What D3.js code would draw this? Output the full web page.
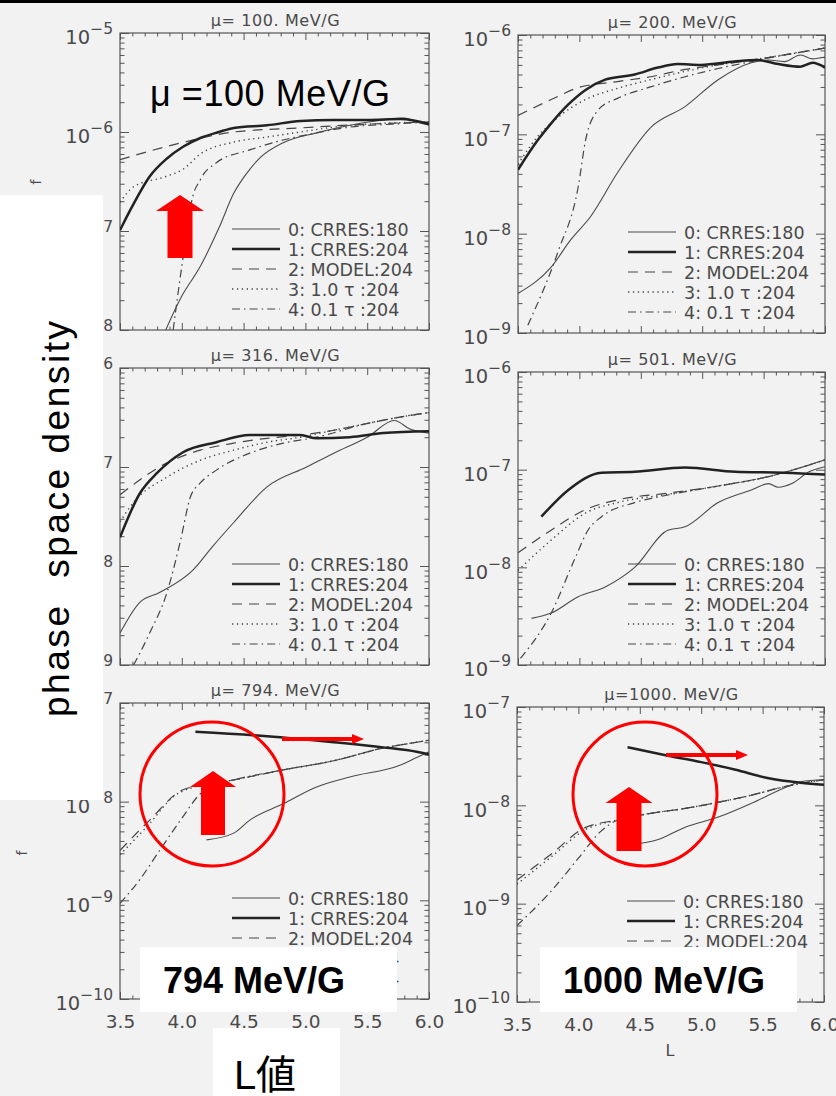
<!DOCTYPE html>
<html><head><meta charset="utf-8">
<script src="https://cdn.jsdelivr.net/npm/d3@7"></script>
<style>body{margin:0;background:#f1f1f1;} svg{display:block;}</style>
</head><body><svg id="c" width="836" height="1096"></svg>
<script>
// ---------- data ----------
const muTitles = ["\u03bc= 100. MeV/G","\u03bc= 200. MeV/G","\u03bc= 316. MeV/G","\u03bc= 501. MeV/G","\u03bc= 794. MeV/G","\u03bc=1000. MeV/G"];
const seriesNames = ["0: CRRES:180","1: CRRES:204","2: MODEL:204","3: 1.0 \u03c4 :204","4: 0.1 \u03c4 :204"];
const xTicks = [3.5,4.0,4.5,5.0,5.5,6.0];
const xTickLabels = ["3.5","4.0","4.5","5.0","5.5","6.0"];
const yTopDecade = [-5,-6,-6,-6,-7,-7];
const yBottomDecade = [-8,-9,-9,-9,-10,-10];

// mu = 100
const mu100_L0 = [3.87,4.0,4.15,4.3,4.42,4.55,4.64,4.82,5.09,5.36,5.63,5.8,5.9,6.0];
const mu100_f0 = [1.0e-8,2.2e-8,4.4e-8,1.07e-7,2.4e-7,4.2e-7,5.6e-7,7.8e-7,9.8e-7,1.17e-6,1.32e-6,1.38e-6,1.26e-6,1.17e-6];
const mu100_L1 = [3.5,3.6,3.74,3.88,4.01,4.15,4.3,4.42,4.69,4.96,5.23,5.5,5.77,6.0];
const mu100_f1 = [1.02e-7,1.78e-7,3.55e-7,5.4e-7,7.1e-7,8.7e-7,1.0e-6,1.1e-6,1.17e-6,1.29e-6,1.32e-6,1.32e-6,1.35e-6,1.2e-6];
const mu100_L2 = [3.5,4.0,4.42,4.96,5.5,6.0];
const mu100_f2 = [5.25e-7,7.8e-7,1.0e-6,1.1e-6,1.2e-6,1.26e-6];
const mu100_L3 = [3.5,3.61,3.87,4.01,4.15,4.42,4.69,4.96,5.23,5.5,6.0];
const mu100_f3 = [1.95e-7,2.8e-7,3.55e-7,4.2e-7,6.0e-7,7.9e-7,8.9e-7,1.0e-6,1.12e-6,1.2e-6,1.26e-6];
const mu100_L4 = [3.93,4.0,4.04,4.08,4.15,4.28,4.55,4.82,5.09,5.36,5.7,6.0];
const mu100_f4 = [1.0e-8,4.4e-8,9.5e-8,2.0e-7,3.3e-7,4.9e-7,6.6e-7,8.3e-7,9.8e-7,1.12e-6,1.2e-6,1.26e-6];

// mu = 200
const mu200_L0 = [3.5,3.77,3.93,4.09,4.31,4.58,4.86,5.13,5.4,5.54,5.67,5.8,5.9,6.0];
const mu200_f0 = [2.5e-9,4.6e-9,8.7e-9,1.48e-8,4.1e-8,1.17e-7,1.9e-7,3.55e-7,5.25e-7,5.6e-7,5.4e-7,6.3e-7,5.75e-7,6.0e-7];
const mu200_L1 = [3.5,3.66,3.77,3.91,4.05,4.21,4.45,4.64,4.8,4.99,5.26,5.45,5.62,5.8,5.9,6.0];
const mu200_f1 = [4.4e-8,8.7e-8,1.29e-7,2.0e-7,2.8e-7,3.55e-7,4.0e-7,4.7e-7,5.1e-7,5.0e-7,5.4e-7,5.6e-7,5.1e-7,4.8e-7,5.25e-7,4.7e-7];
const mu200_L2 = [3.5,3.77,3.99,4.31,4.58,4.86,5.13,5.4,5.67,6.0];
const mu200_f2 = [1.55e-7,2.24e-7,2.95e-7,3.4e-7,3.8e-7,4.5e-7,5.0e-7,5.6e-7,6.3e-7,7.4e-7];
const mu200_L3 = [3.5,3.66,3.83,4.05,4.31,4.58,4.86,5.13,5.4,5.67,6.0];
const mu200_f3 = [5.0e-8,9.5e-8,1.5e-7,2.24e-7,2.9e-7,3.55e-7,4.3e-7,5.0e-7,5.6e-7,6.3e-7,7.4e-7];
const mu200_L4 = [3.58,3.83,3.99,4.05,4.15,4.31,4.58,4.86,5.13,5.4,5.67,6.0];
const mu200_f4 = [1.2e-9,6.8e-9,2.95e-8,8.7e-8,1.74e-7,2.3e-7,3.0e-7,3.8e-7,4.6e-7,5.4e-7,6.3e-7,7.4e-7];

// mu = 316
const mu316_L0 = [3.5,3.66,3.82,4.09,4.25,4.42,4.69,5.01,5.23,5.5,5.72,5.85,6.0];
const mu316_f0 = [2.1e-9,4.3e-9,5.4e-9,9.1e-9,1.58e-8,2.75e-8,6.3e-8,1.0e-7,1.38e-7,2.0e-7,2.95e-7,2.4e-7,2.2e-7];
const mu316_L1 = [3.5,3.66,3.8,4.01,4.28,4.55,4.96,5.09,5.36,5.63,6.0];
const mu316_f1 = [1.95e-8,5.4e-8,8.7e-8,1.41e-7,1.78e-7,2.1e-7,2.1e-7,1.95e-7,2.0e-7,2.2e-7,2.3e-7];
const mu316_L2 = [3.5,3.88,4.15,4.42,4.69,4.96,5.23,5.5,5.77,6.0];
const mu316_f2 = [5.25e-8,1.1e-7,1.48e-7,1.74e-7,1.95e-7,2.1e-7,2.35e-7,2.75e-7,3.2e-7,3.55e-7];
const mu316_L3 = [3.5,3.61,3.88,4.15,4.42,4.69,4.96,5.23,5.5,5.77,6.0];
const mu316_f3 = [2.8e-8,4.4e-8,7.9e-8,1.17e-7,1.48e-7,1.78e-7,2.0e-7,2.35e-7,2.75e-7,3.2e-7,3.55e-7];
const mu316_L4 = [3.61,3.74,3.88,3.99,4.07,4.15,4.28,4.55,4.82,5.09,5.5,5.77,6.0];
const mu316_f4 = [1.0e-9,2.1e-9,5.4e-9,1.82e-8,5.0e-8,6.9e-8,9.3e-8,1.38e-7,1.74e-7,2.0e-7,2.75e-7,3.2e-7,3.55e-7];

// mu = 501
const mu501_L0 = [3.61,3.77,3.99,4.21,4.45,4.72,4.86,5.13,5.4,5.54,5.62,5.73,5.87,6.0];
const mu501_f0 = [3.0e-9,3.4e-9,5.0e-9,6.3e-9,1.0e-8,2.4e-8,2.6e-8,4.6e-8,6.2e-8,7.2e-8,6.6e-8,7.2e-8,9.5e-8,1.07e-7];
const mu501_L1 = [3.69,3.91,4.18,4.45,4.86,5.27,5.67,6.0];
const mu501_f1 = [3.3e-8,6.2e-8,9.3e-8,9.5e-8,1.05e-7,9.5e-8,9.3e-8,8.9e-8];
const mu501_L2 = [3.5,3.77,4.05,4.31,4.72,5.13,5.54,6.0];
const mu501_f2 = [1.41e-8,2.4e-8,3.9e-8,4.9e-8,5.75e-8,6.8e-8,8.5e-8,1.26e-7];
const mu501_L3 = [3.5,3.77,4.05,4.31,4.72,5.13,5.54,6.0];
const mu501_f3 = [9.3e-9,1.9e-8,3.6e-8,4.6e-8,5.6e-8,6.8e-8,8.5e-8,1.26e-7];
const mu501_L4 = [3.52,3.77,3.96,4.07,4.18,4.45,4.72,5.13,5.54,6.0];
const mu501_f4 = [1.17e-9,3.4e-9,1.2e-8,2.4e-8,3.3e-8,4.6e-8,5.5e-8,6.8e-8,8.5e-8,1.26e-7];

// mu = 794
const mu794_L0 = [4.2,4.42,4.55,4.82,5.09,5.36,5.77,5.9,6.0];
const mu794_f0 = [4.1e-9,4.8e-9,6.5e-9,9.5e-9,1.41e-8,1.78e-8,2.35e-8,2.8e-8,3.2e-8];
const mu794_L1 = [4.11,4.69,5.23,5.63,5.9,6.0];
const mu794_f1 = [5.1e-8,4.6e-8,4.0e-8,3.55e-8,3.2e-8,3.0e-8];
const mu794_L2 = [3.5,3.74,4.01,4.42,4.82,5.23,5.63,5.9,6.0];
const mu794_f2 = [3.2e-9,6.5e-9,1.32e-8,1.66e-8,2.1e-8,2.6e-8,3.5e-8,4.0e-8,4.2e-8];
const mu794_L3 = [3.5,3.74,3.93,4.1,4.42,4.82,5.23,5.63,5.9,6.0];
const mu794_f3 = [2.9e-9,6.0e-9,1.12e-8,1.41e-8,1.66e-8,2.1e-8,2.6e-8,3.5e-8,4.0e-8,4.2e-8];
const mu794_L4 = [3.5,3.66,3.82,3.99,4.15,4.3,4.42,4.82,5.23,5.63,5.9,6.0];
const mu794_f4 = [9.3e-10,1.62e-9,3.2e-9,6.5e-9,1.2e-8,1.5e-8,1.66e-8,2.1e-8,2.6e-8,3.5e-8,4.0e-8,4.2e-8];

// mu = 1000
const mu1000_L0 = [4.43,4.65,4.87,5.14,5.41,5.68,5.81,6.0];
const mu1000_f0 = [4.0e-9,4.5e-9,6.0e-9,7.6e-9,1.05e-8,1.51e-8,1.74e-8,1.82e-8];
const mu1000_L1 = [4.40,4.73,5.0,5.28,5.54,5.81,6.0];
const mu1000_f1 = [3.9e-8,3.2e-8,2.75e-8,2.3e-8,1.9e-8,1.7e-8,1.62e-8];
const mu1000_L2 = [3.5,3.78,4.05,4.32,4.59,4.87,5.13,5.4,5.68,6.0];
const mu1000_f2 = [1.74e-9,3.2e-9,5.9e-9,7.1e-9,8.3e-9,9.3e-9,1.07e-8,1.26e-8,1.55e-8,1.82e-8];
const mu1000_L3 = [3.5,3.78,4.05,4.32,4.59,4.87,5.13,5.4,5.68,6.0];
const mu1000_f3 = [1.58e-9,3.0e-9,5.6e-9,7.1e-9,8.3e-9,9.3e-9,1.07e-8,1.26e-8,1.55e-8,1.82e-8];
const mu1000_L4 = [3.5,3.78,4.0,4.18,4.32,4.59,4.87,5.13,5.4,5.68,6.0];
const mu1000_f4 = [6.0e-10,1.35e-9,2.9e-9,5.4e-9,7.1e-9,8.3e-9,9.3e-9,1.07e-8,1.26e-8,1.55e-8,1.82e-8];

const panelData = [
  [[mu100_L0,mu100_f0],[mu100_L1,mu100_f1],[mu100_L2,mu100_f2],[mu100_L3,mu100_f3],[mu100_L4,mu100_f4]],
  [[mu200_L0,mu200_f0],[mu200_L1,mu200_f1],[mu200_L2,mu200_f2],[mu200_L3,mu200_f3],[mu200_L4,mu200_f4]],
  [[mu316_L0,mu316_f0],[mu316_L1,mu316_f1],[mu316_L2,mu316_f2],[mu316_L3,mu316_f3],[mu316_L4,mu316_f4]],
  [[mu501_L0,mu501_f0],[mu501_L1,mu501_f1],[mu501_L2,mu501_f2],[mu501_L3,mu501_f3],[mu501_L4,mu501_f4]],
  [[mu794_L0,mu794_f0],[mu794_L1,mu794_f1],[mu794_L2,mu794_f2],[mu794_L3,mu794_f3],[mu794_L4,mu794_f4]],
  [[mu1000_L0,mu1000_f0],[mu1000_L1,mu1000_f1],[mu1000_L2,mu1000_f2],[mu1000_L3,mu1000_f3],[mu1000_L4,mu1000_f4]]
];

// ---------- layout / style ----------
const layout = [
  {x0:120,x1:429,y0:33,y1:330},
  {x0:518,x1:825,y0:35,y1:333},
  {x0:120,x1:429,y0:368,y1:665},
  {x0:518,x1:825,y0:372,y1:665},
  {x0:120,x1:429,y0:703,y1:999},
  {x0:517,x1:824,y0:707,y1:1002}
];
const styles = [
  {w:1.1, dash:null, c:"#4a4a4a"},
  {w:2.5, dash:null, c:"#222"},
  {w:1.2, dash:"10,7", c:"#444"},
  {w:1.4, dash:"1.3,3.6", c:"#444"},
  {w:1.2, dash:"8,4,1.6,4", c:"#444"}
];
const FONT = "'DejaVu Sans', sans-serif";
const GRAY = "#4a4a4a";

const svg = d3.select("#c");
svg.append("rect").attr("width",836).attr("height",1096).attr("fill","#f2f2f2");
svg.append("rect").attr("width",836).attr("height",3).attr("fill","#000");
const defs = svg.append("defs");

layout.forEach((p, i) => {
  const x = d3.scaleLinear().domain([3.5, 6.0]).range([p.x0, p.x1]);
  const y = d3.scaleLog().domain([Math.pow(10, yBottomDecade[i]), Math.pow(10, yTopDecade[i])]).range([p.y1, p.y0]);
  const g = svg.append("g");

  defs.append("clipPath").attr("id","clip"+i).append("rect")
    .attr("x",p.x0).attr("y",p.y0).attr("width",p.x1-p.x0).attr("height",p.y1-p.y0);

  g.append("rect").attr("x",p.x0).attr("y",p.y0).attr("width",p.x1-p.x0).attr("height",p.y1-p.y0)
    .attr("fill","none").attr("stroke","#555").attr("stroke-width",1.2);

  const xMinor = d3.range(35, 61).map(v => v/10).filter(v => !xTicks.some(t => Math.abs(t-v) < 1e-6));
  const decades = d3.range(yBottomDecade[i], yTopDecade[i]+1).map(e => Math.pow(10, e));
  const yMinor = [];
  for (let e = yBottomDecade[i]; e < yTopDecade[i]; e++) for (let k = 2; k <= 9; k++) yMinor.push(k*Math.pow(10,e));

  const axes = [
    [d3.axisBottom(x).tickValues(xTicks).tickSize(-7), `translate(0,${p.y1})`],
    [d3.axisBottom(x).tickValues(xMinor).tickSize(-3.5), `translate(0,${p.y1})`],
    [d3.axisTop(x).tickValues(xTicks).tickSize(-7), `translate(0,${p.y0})`],
    [d3.axisTop(x).tickValues(xMinor).tickSize(-3.5), `translate(0,${p.y0})`],
    [d3.axisLeft(y).tickValues(decades).tickSize(-9), `translate(${p.x0},0)`],
    [d3.axisLeft(y).tickValues(yMinor).tickSize(-4.5), `translate(${p.x0},0)`],
    [d3.axisRight(y).tickValues(decades).tickSize(-9), `translate(${p.x1},0)`],
    [d3.axisRight(y).tickValues(yMinor).tickSize(-4.5), `translate(${p.x1},0)`]
  ];
  axes.forEach(([ax, tr]) => {
    const a = g.append("g").attr("transform", tr).call(ax.tickFormat("").tickSizeOuter(0));
    a.select(".domain").remove();
    a.selectAll("line").attr("stroke","#555").attr("stroke-width",1);
  });

  const yl = g.append("g").attr("transform", `translate(${p.x0},0)`)
    .call(d3.axisLeft(y).tickValues(decades).tickSize(0).tickPadding(7).tickFormat(""));
  yl.select(".domain").remove();
  yl.selectAll(".tick text").each(function(d){
    const e = Math.round(Math.log10(d));
    const t = d3.select(this).attr("font-family",FONT).attr("font-size",19.5).attr("fill",GRAY)
      .attr("dy","0.55em").attr("text-anchor","end");
    t.append("tspan").text("10");
    t.append("tspan").attr("dy",-10).attr("font-size",15.5).text("\u2212" + (-e));
  });

  if (i >= 4) {
    const xl = g.append("g").attr("transform", `translate(0,${p.y1})`)
      .call(d3.axisBottom(x).tickValues(xTicks).tickSize(0).tickPadding(16).tickFormat((d,k)=>xTickLabels[k]));
    xl.select(".domain").remove();
    xl.selectAll("text").attr("font-family",FONT).attr("font-size",18.5).attr("fill",GRAY);
  }

  g.append("text").attr("x",(p.x0+p.x1)/2+1).attr("y",p.y0-7).attr("text-anchor","middle")
    .attr("font-family",FONT).attr("font-size",16).attr("letter-spacing",0.6).attr("fill",GRAY).text(muTitles[i]);

  const line = d3.line().x(d => x(d[0])).y(d => y(d[1])).curve(d3.curveMonotoneX);
  const cg = g.append("g").attr("clip-path",`url(#clip${i})`);
  [4,3,2,0,1].forEach(s => {
    const [Ls, fs] = panelData[i][s];
    cg.append("path").datum(d3.zip(Ls, fs)).attr("d", line)
      .attr("fill","none").attr("stroke",styles[s].c).attr("stroke-width",styles[s].w)
      .attr("stroke-dasharray",styles[s].dash).attr("stroke-linejoin","round");
  });

  const ly0 = p.y1 - 101;
  seriesNames.forEach((name, s) => {
    const yy = ly0 + s*20;
    g.append("line").attr("x1",p.x1-197).attr("x2",p.x1-149).attr("y1",yy).attr("y2",yy)
      .attr("stroke",styles[s].c).attr("stroke-width",styles[s].w).attr("stroke-dasharray",styles[s].dash);
    g.append("text").attr("x",p.x1-141).attr("y",yy+6.5).attr("font-family",FONT).attr("font-size",17.5)
      .attr("fill",GRAY).text(name);
  });
});

svg.append("text").attr("transform","translate(41,182) rotate(-90)").attr("text-anchor","middle")
  .attr("font-family",FONT).attr("font-size",14).attr("fill",GRAY).text("f");
svg.append("text").attr("transform","translate(27,853) rotate(-90)").attr("text-anchor","middle")
  .attr("font-family",FONT).attr("font-size",14).attr("fill",GRAY).text("f");
svg.append("text").attr("x",670).attr("y",1056).attr("text-anchor","middle")
  .attr("font-family",FONT).attr("font-size",16).attr("fill",GRAY).text("L");

// ---------- overlays ----------
const ov = svg.append("g");
ov.append("rect").attr("x",0).attr("y",195).attr("width",103).attr("height",605).attr("fill","#fff");
ov.append("rect").attr("x",213).attr("y",1028).attr("width",127).attr("height",68).attr("fill","#fff");
ov.append("rect").attr("x",140).attr("y",947).attr("width",257).attr("height",65).attr("fill","#fff");
ov.append("rect").attr("x",540).attr("y",947).attr("width",257).attr("height",65).attr("fill","#fff");

const AR = "'Liberation Sans', Arial, sans-serif";
ov.append("text").attr("transform","translate(69,519) rotate(-90)").attr("text-anchor","middle")
  .attr("font-family",AR).attr("font-size",37).attr("fill","#000")
  .attr("textLength",396).attr("lengthAdjust","spacing")
  .attr("xml:space","preserve").text("phase  space density");
ov.append("text").attr("x",265).attr("y",1089).attr("text-anchor","middle")
  .attr("font-family","'Liberation Sans', 'Noto Sans CJK JP', sans-serif").attr("font-size",40).attr("fill","#000").text("L\u5024");
ov.append("text").attr("x",150).attr("y",106).attr("font-family",AR).attr("font-size",36).attr("fill","#000")
  .attr("textLength",240).attr("lengthAdjust","spacing").text("\u03bc =100 MeV/G");
ov.append("text").attr("x",254).attr("y",993).attr("text-anchor","middle").attr("font-family",AR)
  .attr("font-weight","bold").attr("font-size",36).attr("fill","#000").text("794 MeV/G");
ov.append("text").attr("x",664).attr("y",993).attr("text-anchor","middle").attr("font-family",AR)
  .attr("font-weight","bold").attr("font-size",36).attr("fill","#000").text("1000 MeV/G");

const RED = "#ff0000";
function blockArrow(cx, top, headBase, bottom, headHalf, shaftHalf){
  const pts = [[cx,top],[cx+headHalf,headBase],[cx+shaftHalf,headBase],[cx+shaftHalf,bottom],
               [cx-shaftHalf,bottom],[cx-shaftHalf,headBase],[cx-headHalf,headBase]];
  ov.append("polygon").attr("points",pts.map(q=>q.join(",")).join(" ")).attr("fill",RED);
}
blockArrow(180,195,211,258,24,12.5);
blockArrow(213,771,787,835,23,12);
blockArrow(629,787,803,851,23.5,12.5);

ov.append("circle").attr("cx",212).attr("cy",794).attr("r",72).attr("fill","none").attr("stroke",RED).attr("stroke-width",3);
ov.append("circle").attr("cx",645).attr("cy",794).attr("r",72).attr("fill","none").attr("stroke",RED).attr("stroke-width",3);

function thinArrow(x1, x2, yy){
  ov.append("line").attr("x1",x1).attr("x2",x2-10).attr("y1",yy).attr("y2",yy).attr("stroke",RED).attr("stroke-width",4);
  ov.append("polygon").attr("points",`${x2},${yy} ${x2-12},${yy-5} ${x2-12},${yy+5}`).attr("fill",RED);
}
thinArrow(282,364,739);
thinArrow(666,748,755);
</script></body></html>
